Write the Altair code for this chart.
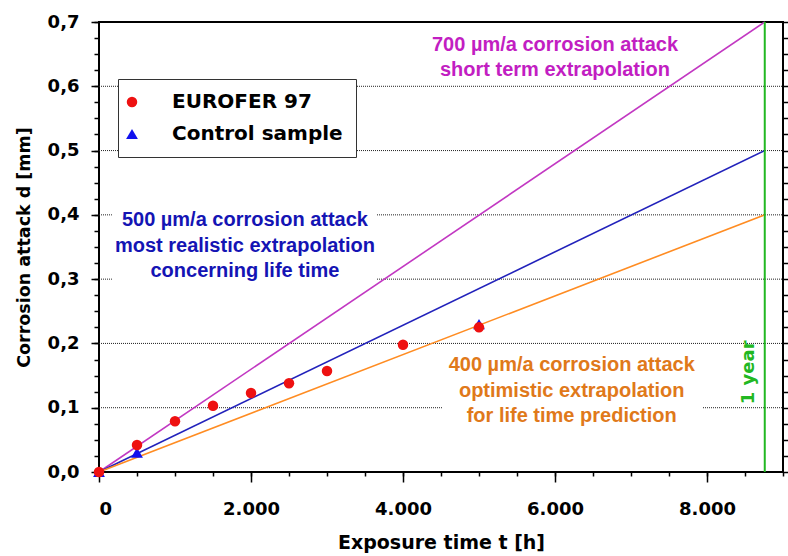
import altair as alt
import pandas as pd

# Measured corrosion depth d [mm] over exposure time t [h]
eurofer_t = [0, 500, 1000, 1500, 2000, 2500, 3000, 4000, 5000]
eurofer_d = [0.0, 0.042, 0.079, 0.103, 0.123, 0.138, 0.157, 0.198, 0.225]

control_t = [0, 500, 5000]
control_d = [0.0, 0.030, 0.230]

series_names = ["EUROFER 97", "Control sample"]
series_colors = ["#ee1111", "#1111ee"]
series_shapes = ["circle", "triangle-up"]
series_sizes = [110, 140]

# Extrapolated corrosion rates [µm/a], drawn over one year of exposure
rates = [700, 500, 400]
rate_line_colors = ["#c238c2", "#2222bb", "#ff8c22"]
rate_text_colors = ["#c21ec2", "#1414b4", "#e0791a"]
rate_texts = [
    "700 µm/a corrosion attack\nshort term extrapolation",
    "500 µm/a corrosion attack\nmost realistic extrapolation\nconcerning life time",
    "400 µm/a corrosion attack\noptimistic extrapolation\nfor life time prediction",
]
hours_per_year = 8760

# Axis ticks and grid levels
x_major = [0, 2000, 4000, 6000, 8000]
x_minor = [500 * i for i in range(19)]
y_major = [0.0, 0.1, 0.2, 0.3, 0.4, 0.5, 0.6, 0.7]
y_minor = [round(0.025 * i, 3) for i in range(29)]
grid_levels = [0.1, 0.2, 0.3, 0.4, 0.5, 0.6]

# Annotation anchors (centre of the first text line) in data units
text_t = [6000, 1920, 6220]
text_d = [0.665, 0.392, 0.166]

# White panels behind the blue and orange text blocks
panel_t0 = [170, 4513]
panel_t1 = [3658, 7934]
panel_d0 = [0.296, 0.065]
panel_d1 = [0.415, 0.19]

green = "#22b822"
font = "DejaVu Sans"
text_font = "Liberation Sans"

xs = alt.Scale(domain=[0, 9000], nice=False, zero=False)
ys = alt.Scale(domain=[0, 0.7], nice=False, zero=False)

y_fmt = "replace(format(datum.value, '.1f'), '.', ',')"
x_fmt = "replace(format(datum.value, ','), ',', '.')"

points = pd.DataFrame(
    {
        "t": eurofer_t + control_t,
        "d": eurofer_d + control_d,
        "series": [series_names[0]] * len(eurofer_t) + [series_names[1]] * len(control_t),
        "order": [1] * len(eurofer_t) + [0] * len(control_t),
    }
)

line_rows = []
for r, c in zip(rates, rate_line_colors):
    line_rows.append({"t": 0, "d": 0.0, "rate": r, "col": c})
    line_rows.append({"t": hours_per_year, "d": r / 1000.0, "rate": r, "col": c})
lines = pd.DataFrame(line_rows)

grid = pd.DataFrame({"d": grid_levels})
panels = pd.DataFrame({"t0": panel_t0, "t1": panel_t1, "d0": panel_d0, "d1": panel_d1})
texts = pd.DataFrame({"t": text_t, "d": text_d, "text": rate_texts, "col": rate_text_colors})
year = pd.DataFrame({"t": [hours_per_year], "d0": [0.0], "d1": [0.7]})
year_label = pd.DataFrame({"t": [8550], "d": [0.155], "text": ["1 year"]})

# Dotted grid with the major left axis (labels + title)
grid_layer = alt.Chart(grid).mark_rule(color="#222222", strokeWidth=1, strokeDash=[1, 1]).encode(
    y=alt.Y(
        "d:Q",
        scale=ys,
        axis=alt.Axis(
            orient="left",
            values=y_major,
            labelExpr=y_fmt,
            tickSize=8,
            labelPadding=12,
            title="Corrosion attack d [mm]",
            titleFontSize=17.5,
            titlePadding=14,
            grid=False,
            domain=False,
        ),
    ),
    x=alt.value(0),
    x2=alt.value(684),
)

# White panels, carrying the minor ticks on the left and bottom
panel_layer = alt.Chart(panels).mark_rect(color="white").encode(
    x=alt.X(
        "t0:Q",
        scale=xs,
        axis=alt.Axis(orient="bottom", values=x_minor, labels=False, tickSize=4, title=None, grid=False, domain=False),
    ),
    x2="t1:Q",
    y=alt.Y(
        "d0:Q",
        scale=ys,
        axis=alt.Axis(orient="left", values=y_minor, labels=False, tickSize=5, title=None, grid=False, domain=False),
    ),
    y2="d1:Q",
)

# Extrapolation lines, carrying the major bottom axis and the right-hand ticks
line_layer = alt.Chart(lines).mark_line(strokeWidth=1.6).encode(
    x=alt.X(
        "t:Q",
        scale=xs,
        axis=alt.Axis(
            orient="bottom",
            values=x_major,
            labelExpr=x_fmt,
            tickSize=10,
            labelPadding=18,
            title="Exposure time t [h]",
            titlePadding=15,
            grid=False,
            domain=False,
        ),
    ),
    y=alt.Y(
        "d:Q",
        scale=ys,
        axis=alt.Axis(orient="right", values=y_minor, labels=False, tickSize=5, title=None, grid=False, domain=False),
    ),
    detail="rate:N",
    stroke=alt.Stroke("col:N", scale=None, legend=None),
)

year_layer = alt.Chart(year).mark_rule(color=green, strokeWidth=2).encode(
    x=alt.X("t:Q", scale=xs, axis=None),
    y=alt.Y("d0:Q", scale=ys, axis=None),
    y2="d1:Q",
)

year_text = alt.Chart(year_label).mark_text(
    angle=270, font=font, fontWeight="bold", fontSize=18, color=green, baseline="middle", align="center"
).encode(
    x=alt.X("t:Q", scale=xs, axis=None),
    y=alt.Y("d:Q", scale=ys, axis=None),
    text="text:N",
)

point_layer = alt.Chart(points).mark_point(filled=True, opacity=1).encode(
    x=alt.X("t:Q", scale=xs, axis=None),
    y=alt.Y("d:Q", scale=ys, axis=None),
    color=alt.Color(
        "series:N",
        scale=alt.Scale(domain=series_names, range=series_colors),
        legend=alt.Legend(
            title=None,
            orient="none",
            legendX=19,
            legendY=57,
            fillColor="white",
            strokeColor="#333333",
            padding=13,
            labelFont=font,
            labelFontWeight="bold",
            labelFontSize=20,
            labelColor="black",
            labelLimit=400,
            labelOffset=30,
            rowPadding=12,
            symbolSize=80,
            symbolOffset=-9,
            symbolStrokeWidth=0,
        ),
    ),
    shape=alt.Shape("series:N", scale=alt.Scale(domain=series_names, range=series_shapes)),
    size=alt.Size("series:N", scale=alt.Scale(domain=series_names, range=series_sizes), legend=None),
    order="order:Q",
)

text_layer = alt.Chart(texts).mark_text(
    font=text_font, fontWeight="bold", fontSize=20, lineBreak="\n", lineHeight=25.5, align="center", baseline="middle"
).encode(
    x=alt.X("t:Q", scale=xs, axis=None),
    y=alt.Y("d:Q", scale=ys, axis=None),
    text="text:N",
    fill=alt.Fill("col:N", scale=None, legend=None),
)

chart = (
    alt.layer(grid_layer, panel_layer, line_layer, year_layer, year_text, point_layer, text_layer)
    .resolve_axis(x="independent", y="independent")
    .properties(
        width=684,
        height=450,
        autosize=alt.AutoSizeParams(type="none"),
        padding={"left": 99, "top": 22, "right": 5, "bottom": 84},
        background="white",
    )
    .configure_view(stroke="black", strokeWidth=2)
    .configure_axis(
        labelFont=font,
        labelFontWeight="bold",
        labelFontSize=18,
        labelColor="black",
        titleFont=font,
        titleFontWeight="bold",
        titleFontSize=19,
        titleColor="black",
        tickColor="black",
        tickWidth=1.5,
    )
)

chart.save("out.html", embed_options={"renderer": "svg", "actions": False})
